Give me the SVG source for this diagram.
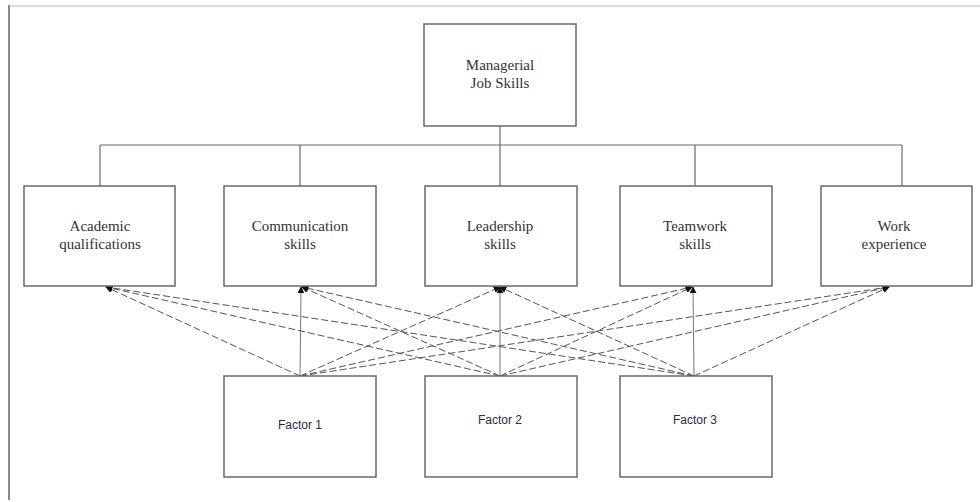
<svg xmlns="http://www.w3.org/2000/svg" width="980" height="502" viewBox="0 0 980 502">
<style>
.box{fill:#fff;stroke:#6a6a6a;stroke-width:1.5}
.lbl{font-family:"Liberation Serif",serif;font-size:15px;fill:#333;text-anchor:middle}
.fac{font-family:"Liberation Sans",sans-serif;font-size:12px;fill:#2a2a4a;text-anchor:middle}
.tree{fill:none;stroke:#6a6a6a;stroke-width:1.2}
.dash{fill:none;stroke:#555;stroke-width:1;stroke-dasharray:7,3}
.solid{fill:none;stroke:#777;stroke-width:1}
</style>
<defs>
<marker id="ah" viewBox="0 0 10 10" refX="9" refY="5" markerWidth="7" markerHeight="7" orient="auto" markerUnits="userSpaceOnUse">
<path d="M0,0 L10,5 L0,10 z" fill="#111"/>
</marker>
</defs>
<rect x="0" y="0" width="980" height="502" fill="#fff"/>
<line x1="9" y1="6" x2="980" y2="6" stroke="#dcdcdc" stroke-width="2"/>
<line x1="9" y1="5" x2="9" y2="500" stroke="#888" stroke-width="2"/>

<g id="connectors">
<path class="tree" d="M500,126 V145 M100,145 H902 M100,145 V186 M300,145 V186 M500,145 V186 M695,145 V186 M902,145 V186"/>
<g marker-end="url(#ah)">
<line class="dash" x1="300" y1="376" x2="106" y2="287"/>
<line class="solid" x1="300" y1="376" x2="301" y2="287"/>
<line class="dash" x1="300" y1="376" x2="500" y2="287"/>
<line class="dash" x1="300" y1="376" x2="692" y2="287"/>
<line class="dash" x1="300" y1="376" x2="889" y2="287"/>
<line class="dash" x1="500" y1="376" x2="106" y2="287"/>
<line class="dash" x1="500" y1="376" x2="302" y2="287"/>
<line class="solid" x1="500" y1="376" x2="500" y2="287"/>
<line class="dash" x1="500" y1="376" x2="692" y2="287"/>
<line class="dash" x1="500" y1="376" x2="889" y2="287"/>
<line class="dash" x1="694" y1="376" x2="106" y2="287"/>
<line class="dash" x1="694" y1="376" x2="302" y2="287"/>
<line class="dash" x1="694" y1="376" x2="500" y2="287"/>
<line class="solid" x1="694" y1="376" x2="693" y2="287"/>
<line class="dash" x1="694" y1="376" x2="889" y2="287"/>
</g>
</g>

<g id="managerial">
<rect class="box" x="424" y="24" width="152" height="102"/>
<text class="lbl" x="500" y="70">Managerial</text>
<text class="lbl" x="500" y="88">Job Skills</text>
</g>
<g id="academic">
<rect class="box" x="24" y="186" width="151" height="100"/>
<text class="lbl" x="100" y="231">Academic</text>
<text class="lbl" x="100" y="249">qualifications</text>
</g>
<g id="communication">
<rect class="box" x="224" y="186" width="152" height="100"/>
<text class="lbl" x="300" y="231">Communication</text>
<text class="lbl" x="300" y="249">skills</text>
</g>
<g id="leadership">
<rect class="box" x="425" y="186" width="152" height="100"/>
<text class="lbl" x="500" y="231">Leadership</text>
<text class="lbl" x="500" y="249">skills</text>
</g>
<g id="teamwork">
<rect class="box" x="620" y="186" width="152" height="100"/>
<text class="lbl" x="695" y="231">Teamwork</text>
<text class="lbl" x="695" y="249">skills</text>
</g>
<g id="work">
<rect class="box" x="821" y="186" width="151" height="100"/>
<text class="lbl" x="894" y="231">Work</text>
<text class="lbl" x="894" y="249">experience</text>
</g>
<g id="factor1">
<rect class="box" x="224" y="376" width="152" height="101"/>
<text class="fac" x="300" y="429">Factor 1</text>
</g>
<g id="factor2">
<rect class="box" x="425" y="376" width="152" height="101"/>
<text class="fac" x="500" y="424">Factor 2</text>
</g>
<g id="factor3">
<rect class="box" x="620" y="376" width="152" height="101"/>
<text class="fac" x="695" y="424">Factor 3</text>
</g>
</svg>
